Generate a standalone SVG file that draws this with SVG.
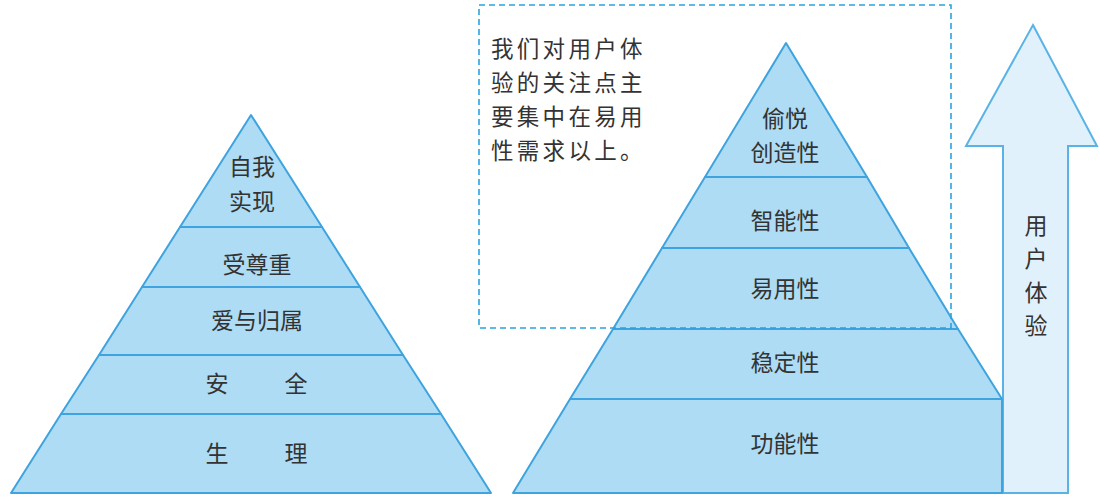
<svg xmlns="http://www.w3.org/2000/svg" width="1100" height="500" viewBox="0 0 1100 500">
<style>
.band{fill:#aedcf4;stroke:#3ea3de;stroke-width:2;stroke-linejoin:round}
.arrow{fill:#e1f1fb;stroke:#5ab3e6;stroke-width:2;stroke-linejoin:miter}
.box{fill:none;stroke:#2aa3e0;stroke-width:1.6;stroke-dasharray:6 4}
text{font-family:"Noto Sans CJK SC","Liberation Sans",sans-serif;fill:#333;font-size:23px}
.c{text-anchor:middle}
.note{font-size:22.5px;letter-spacing:3.3px}
</style>
<rect x="0" y="0" width="1100" height="500" fill="#ffffff"/>
<g id="left-pyramid">
<g id="l-self"><polygon class="band" points="251,115 322,227 180,227"/><text class="c" x="252" y="175">自我</text><text class="c" x="252" y="210">实现</text></g>
<g id="l-esteem"><polygon class="band" points="180,227 322,227 360,287 142,287"/><text class="c" x="257" y="273">受尊重</text></g>
<g id="l-love"><polygon class="band" points="142,287 360,287 403,355 99,355"/><text class="c" x="257" y="329">爱与归属</text></g>
<g id="l-safety"><polygon class="band" points="99,355 403,355 441,414 61,414"/><text class="c" x="217" y="392">安</text><text class="c" x="296" y="392">全</text></g>
<g id="l-phys"><polygon class="band" points="61,414 441,414 491,493 11,493"/><text class="c" x="217" y="462">生</text><text class="c" x="296" y="462">理</text></g>
</g>
<g id="arrow">
<polygon class="arrow" points="1033,25 1097,146 1068,146 1068,493 1003,493 1003,146 966,146"/>
<text class="c" x="1036" y="234">用</text>
<text class="c" x="1036" y="267">户</text>
<text class="c" x="1036" y="301">体</text>
<text class="c" x="1036" y="334">验</text>
</g>
<g id="right-pyramid">
<g id="r-delight"><polygon class="band" points="786,43 867,177 705,177"/><text class="c" x="785" y="127">偷悦</text><text class="c" x="785" y="161">创造性</text></g>
<g id="r-smart"><polygon class="band" points="705,177 867,177 909,248 662,248"/><text class="c" x="785" y="229">智能性</text></g>
<g id="r-usable"><polygon class="band" points="662,248 909,248 958,329 613,329"/><text class="c" x="785" y="297">易用性</text></g>
<g id="r-stable"><polygon class="band" points="613,329 958,329 1002,399 570,399"/><text class="c" x="785" y="371">稳定性</text></g>
<g id="r-func"><polygon class="band" points="570,399 1002,399 1002,493 513,493"/><text class="c" x="785" y="452">功能性</text></g>
</g>
<g id="note">
<rect class="box" x="479" y="5" width="472" height="323"/>
<text class="note" x="491" y="57">我们对用户体</text>
<text class="note" x="491" y="91">验的关注点主</text>
<text class="note" x="491" y="125">要集中在易用</text>
<text class="note" x="491" y="159">性需求以上。</text>
</g>
<g id="connectors"/>
</svg>
